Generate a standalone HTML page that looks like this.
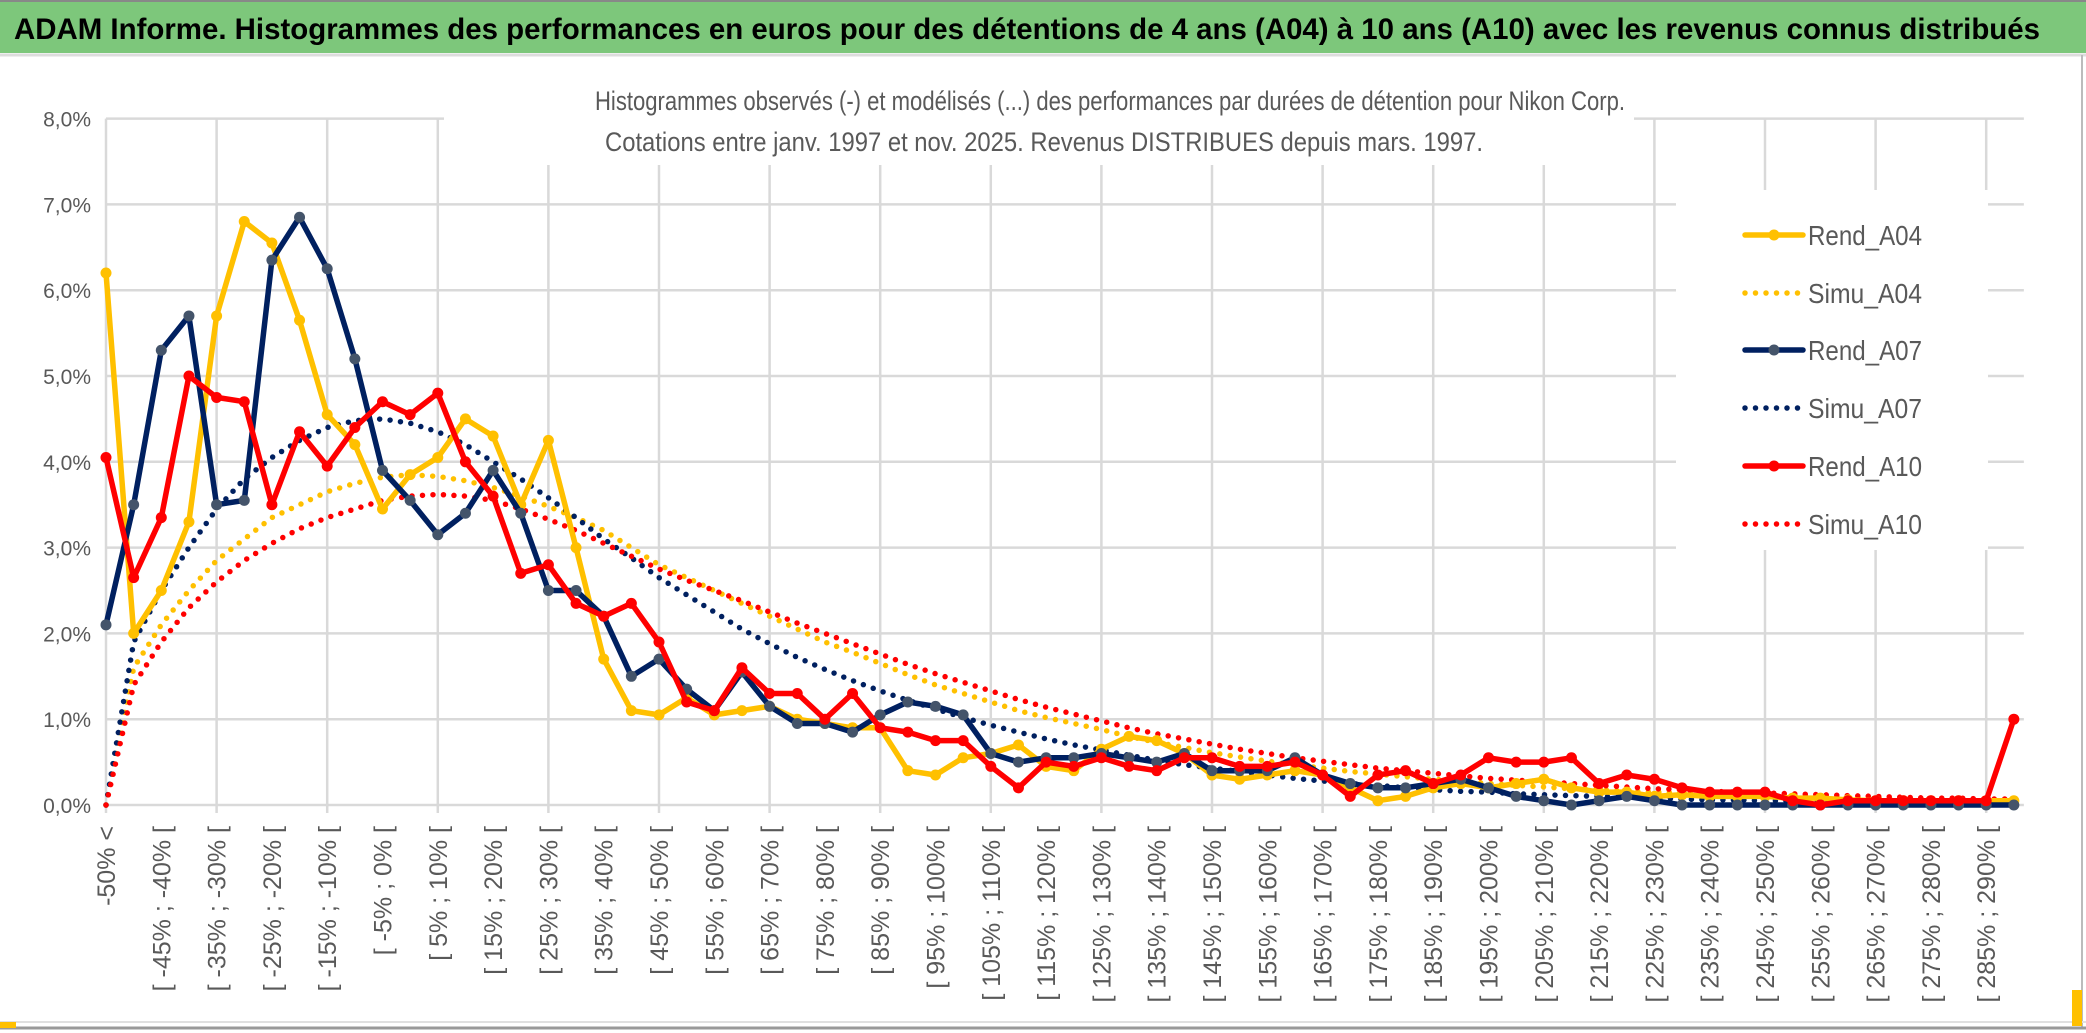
<!DOCTYPE html>
<html><head><meta charset="utf-8"><style>
html,body{margin:0;padding:0;background:#fff;}
svg{display:block;font-family:"Liberation Sans",sans-serif;}
</style></head><body>
<svg id="chart" width="2086" height="1033" viewBox="0 0 2086 1033" xmlns="http://www.w3.org/2000/svg">
<rect x="0" y="0" width="2086" height="1033" fill="#fff"/>
<rect x="0" y="2" width="2086" height="51" fill="#7DC77B"/>
<line x1="0" y1="1" x2="2086" y2="1" stroke="#888" stroke-width="2"/>
<line x1="0" y1="55" x2="2086" y2="55" stroke="#ddd" stroke-width="3"/>
<text x="14" y="39" font-size="30" font-weight="bold" fill="#000" textLength="2026" lengthAdjust="spacingAndGlyphs">ADAM Informe. Histogrammes des performances en euros pour des détentions de 4 ans (A04) à 10 ans (A10) avec les revenus connus distribués</text>
<g id="grid"></g>
<rect x="444" y="78" width="1190" height="87" fill="#fff"/>
<text x="1110" y="110" font-size="27" fill="#595959" text-anchor="middle" textLength="1030" lengthAdjust="spacingAndGlyphs">Histogrammes observés (-) et modélisés (...) des performances par durées de détention pour Nikon Corp.</text>
<text x="1044" y="151" font-size="27" fill="#595959" text-anchor="middle" textLength="878" lengthAdjust="spacingAndGlyphs">Cotations entre janv. 1997 et nov. 2025. Revenus DISTRIBUES depuis mars. 1997.</text>
<g id="axes"></g>
<g id="series"></g>
<rect x="1676" y="190" width="312" height="360" fill="#fff"/>
<g id="legend"></g>
<line x1="2082" y1="55" x2="2082" y2="1028" stroke="#bbb" stroke-width="2"/>
<line x1="0" y1="1028" x2="2086" y2="1028" stroke="#999" stroke-width="3"/>
<line x1="0" y1="1022" x2="2086" y2="1022" stroke="#e0e0e0" stroke-width="2"/>
<rect x="0" y="1022" width="16" height="6" fill="#FFC000"/>
<rect x="2072" y="990" width="10" height="36" fill="#FFC000"/>
</svg>
<script>
var rendA04=[6.2,2.0,2.5,3.3,5.7,6.8,6.55,5.65,4.55,4.2,3.45,3.85,4.05,4.5,4.3,3.5,4.25,3.0,1.7,1.1,1.05,1.25,1.05,1.1,1.15,1.0,0.95,0.9,0.9,0.4,0.35,0.55,0.6,0.7,0.45,0.4,0.65,0.8,0.75,0.6,0.35,0.3,0.35,0.4,0.35,0.2,0.05,0.1,0.2,0.25,0.2,0.25,0.3,0.2,0.15,0.15,0.1,0.12,0.1,0.1,0.1,0.08,0.08,0.06,0.05,0.05,0.05,0.05,0.05,0.05];
var simuA04=[0,1.6,2.1,2.5,2.85,3.1,3.35,3.5,3.65,3.75,3.82,3.85,3.83,3.78,3.7,3.6,3.48,3.35,3.2,3.0,2.8,2.65,2.5,2.35,2.2,2.05,1.9,1.78,1.65,1.52,1.4,1.3,1.2,1.1,1.02,0.95,0.88,0.8,0.73,0.67,0.61,0.56,0.51,0.47,0.43,0.39,0.36,0.33,0.3,0.28,0.25,0.23,0.21,0.19,0.18,0.16,0.15,0.14,0.13,0.12,0.11,0.1,0.09,0.08,0.08,0.07,0.07,0.06,0.06,0.05];
var rendA07=[2.1,3.5,5.3,5.7,3.5,3.55,6.35,6.85,6.25,5.2,3.9,3.55,3.15,3.4,3.9,3.4,2.5,2.5,2.2,1.5,1.7,1.35,1.1,1.55,1.15,0.95,0.95,0.85,1.05,1.2,1.15,1.05,0.6,0.5,0.55,0.55,0.6,0.55,0.5,0.6,0.4,0.4,0.4,0.55,0.35,0.25,0.2,0.2,0.25,0.3,0.2,0.1,0.05,0.0,0.05,0.1,0.05,0,0,0,0,0,0,0,0,0,0,0,0,0];
var simuA07=[0,1.9,2.5,3.0,3.45,3.8,4.05,4.25,4.4,4.48,4.5,4.45,4.35,4.2,4.0,3.8,3.58,3.35,3.1,2.88,2.65,2.45,2.25,2.05,1.88,1.72,1.58,1.45,1.33,1.22,1.12,1.02,0.93,0.85,0.77,0.7,0.64,0.58,0.52,0.47,0.43,0.39,0.35,0.31,0.28,0.25,0.23,0.2,0.18,0.16,0.15,0.13,0.12,0.11,0.1,0.09,0.08,0.07,0.06,0.06,0.05,0.05,0.04,0.04,0.03,0.03,0.03,0.03,0.02,0.02];
var rendA10=[4.05,2.65,3.35,5.0,4.75,4.7,3.5,4.35,3.95,4.4,4.7,4.55,4.8,4.0,3.6,2.7,2.8,2.35,2.2,2.35,1.9,1.2,1.1,1.6,1.3,1.3,1.0,1.3,0.9,0.85,0.75,0.75,0.45,0.2,0.5,0.45,0.55,0.45,0.4,0.55,0.55,0.45,0.45,0.5,0.35,0.1,0.35,0.4,0.25,0.35,0.55,0.5,0.5,0.55,0.25,0.35,0.3,0.2,0.15,0.15,0.15,0.05,0.0,0.05,0.05,0.05,0.05,0.05,0.05,1.0];
var simuA10=[0,1.4,1.9,2.3,2.6,2.85,3.05,3.22,3.35,3.45,3.55,3.6,3.62,3.6,3.55,3.45,3.33,3.2,3.05,2.9,2.75,2.62,2.5,2.38,2.25,2.12,2.0,1.88,1.76,1.64,1.53,1.43,1.33,1.23,1.14,1.06,0.98,0.9,0.83,0.77,0.71,0.65,0.6,0.55,0.51,0.47,0.43,0.4,0.37,0.34,0.31,0.29,0.27,0.25,0.23,0.21,0.19,0.18,0.16,0.15,0.14,0.13,0.12,0.11,0.1,0.09,0.08,0.08,0.07,0.07];
var yTicks=[0,1,2,3,4,5,6,7,8];
var yTickLabels=["0,0%","1,0%","2,0%","3,0%","4,0%","5,0%","6,0%","7,0%","8,0%"];
var categories=["-50% <"];
for(var k=1;k<70;k++){var lo=-50+5*(k-1);categories.push("[ "+lo+"% ; "+(lo+5)+"% [");}

var NS="http://www.w3.org/2000/svg";
var X0=106,DX=27.65,Y0=805,DY=85.8;
function xs(i){return X0+DX*i;}
function ys(v){return Y0-DY*v;}
function mk(tag,attrs,parent){var e=document.createElementNS(NS,tag);for(var a in attrs)e.setAttribute(a,attrs[a]);parent.appendChild(e);return e;}
var grid=document.getElementById('grid'),axes=document.getElementById('axes'),ser=document.getElementById('series'),leg=document.getElementById('legend');
var xEnd=xs(categories.length-1)+10;
yTicks.forEach(function(t,j){
  var l=mk('line',{x1:X0,y1:ys(t),x2:xEnd,y2:ys(t),stroke:'#d9d9d9','stroke-width':2.5},grid);
  
  
  var tx=mk('text',{x:91,y:ys(t)+8,'font-size':21,fill:'#595959','text-anchor':'end'},axes);
  tx.textContent=yTickLabels[j];
  
  
});
for(var i=0;i<categories.length;i+=4){
  var g=mk('line',{x1:xs(i),y1:ys(8),x2:xs(i),y2:Y0+8,stroke:'#d9d9d9','stroke-width':2.5},grid);
  
  
}
for(var i=0;i<categories.length;i+=2){
  var cx=xs(i)+9,cy=826;
  var t=mk('text',{x:cx,y:cy,'font-size':25,fill:'#595959','text-anchor':'end',transform:'rotate(-90 '+cx+' '+cy+')'},axes);
  t.textContent=categories[i];
  
  
}
function pts(arr){return arr.map(function(v,i){return xs(i).toFixed(1)+','+ys(v).toFixed(1);}).join(' ');}
function dotted(arr,color,name){
  var p=mk('polyline',{points:pts(arr),fill:'none',stroke:color,'stroke-width':5.5,'stroke-linecap':'round','stroke-linejoin':'round','stroke-dasharray':'0 10.5'},ser);
  
  
}
function solid(arr,color,mcolor,name){
  var p=mk('polyline',{points:pts(arr),fill:'none',stroke:color,'stroke-width':5.5,'stroke-linejoin':'round'},ser);
  
  
  arr.forEach(function(v,i){
    var c=mk('circle',{cx:xs(i),cy:ys(v),r:5.5,fill:mcolor},ser);
    
    
  });
}
dotted(simuA04,'#FFC000','simu-a04-line');
dotted(simuA07,'#002060','simu-a07-line');
dotted(simuA10,'#FF0000','simu-a10-line');
solid(rendA04,'#FFC000','#FFC000','rend-a04-line');
solid(rendA07,'#002060','#44546A','rend-a07-line');
solid(rendA10,'#FF0000','#FF0000','rend-a10-line');
var legendItems=[["Rend_A04",'#FFC000',false],["Simu_A04",'#FFC000',true],["Rend_A07",'#002060',false],["Simu_A07",'#002060',true],["Rend_A10",'#FF0000',false],["Simu_A10",'#FF0000',true]];
var legendY=[235,293,350,408,466,524];
legendItems.forEach(function(it,j){
  var y=legendY[j];
  var a={x1:1745,y1:y,x2:1803,y2:y,stroke:it[1],'stroke-width':5.5,'stroke-linecap':'round'};
  if(it[2])a['stroke-dasharray']='0 10.5';
  var l=mk('line',a,leg);
  
  
  if(!it[2]){var c=mk('circle',{cx:1774,cy:y,r:5.5,fill:it[0]=="Rend_A07"?'#44546A':it[1]},leg);}
  var t=mk('text',{x:1808,y:y+10,'font-size':28,fill:'#595959',textLength:114,lengthAdjust:'spacingAndGlyphs'},leg);
  t.textContent=it[0];
  
  
});
</script>
</body></html>
